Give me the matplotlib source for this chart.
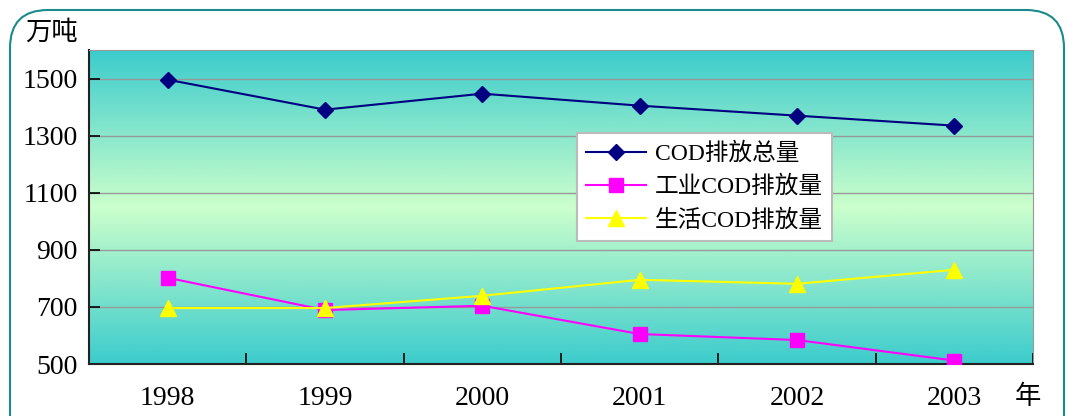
import numpy as np
import matplotlib
matplotlib.use("Agg")
import matplotlib.pyplot as plt
from matplotlib.colors import LinearSegmentedColormap
from matplotlib.patches import FancyBboxPatch
from matplotlib.transforms import IdentityTransform

plt.rcParams['font.family'] = ['Liberation Serif', 'Noto Sans CJK SC', 'DejaVu Sans']

# podaci (procijenjeni s grafa)
godine = ["1998", "1999", "2000", "2001", "2002", "2003"]
cod_ukupno = [1496, 1391, 1447, 1405, 1370, 1335]
cod_industrija = [802, 689, 704, 605, 584, 512]
cod_kucanstva = [696, 696, 739, 795, 781, 830]

fig = plt.figure(figsize=(10.67, 4.16), dpi=100)
ax = fig.add_axes([89 / 1067, 52 / 416, (1033 - 89) / 1067, (364 - 50) / 416])

# pozadina s gradijentom
cmap = LinearSegmentedColormap.from_list("bg", ["#3ccccc", "#ccffcc", "#3ccccc"])
grad = np.linspace(0, 1, 256).reshape(-1, 1)
ax.imshow(grad, cmap=cmap, aspect="auto", extent=[-0.5, 5.5, 500, 1600],
          origin="upper", zorder=0)

x = np.arange(len(godine))
ax.plot(x, cod_ukupno, color="#000080", marker="D", markersize=8, lw=1.5,
        label="COD排放总量", zorder=3)
ax.plot(x, cod_industrija, color="#ff00ff", marker="s", markersize=10, lw=1.5,
        label="工业COD排放量", zorder=3)
ax.plot(x, cod_kucanstva, color="#ffff00", marker="^", markersize=11, lw=1.5,
        label="生活COD排放量", zorder=3)

ax.set_xlim(-0.5, 5.5)
ax.set_ylim(500, 1600)
ax.set_yticks(range(500, 1600, 200))
ax.set_xticks(x)
ax.set_xticklabels(godine)
ax.set_xticks(np.arange(-0.5, 5.6, 1), minor=True)
ax.tick_params(axis="x", which="major", length=0, labelsize=20, pad=16)
ax.tick_params(axis="x", which="minor", direction="in", length=8, width=1.2)
ax.tick_params(axis="y", direction="in", length=8, width=1.2, labelsize=20, pad=8)
ax.grid(axis="y", color="#999999", lw=1, zorder=1)

ax.spines["left"].set_color("#222222")
ax.spines["bottom"].set_color("#222222")
ax.spines["left"].set_linewidth(1.5)
ax.spines["bottom"].set_linewidth(1.5)
ax.spines["top"].set_color("#999999")
ax.spines["right"].set_color("#999999")

leg = ax.legend(loc="upper left", bbox_to_anchor=(0.517, 0.736), fontsize=17,
                frameon=True, fancybox=False, edgecolor="#bbbbbb",
                framealpha=1, handlelength=2.5, handletextpad=0.4,
                borderpad=0.4, labelspacing=0.45, borderaxespad=0)
leg.get_frame().set_linewidth(1.5)

fig.text(25 / 1067, 1 - 32 / 416, "万吨", fontsize=19, va="center", ha="left",
         family=['Noto Sans CJK SC'])
fig.text(1015 / 1067, 1 - 396 / 416, "年", fontsize=19, va="center", ha="left",
         family=['Noto Sans CJK SC'])

# zaobljeni okvir
okvir = FancyBboxPatch((10, -60), 1054, 466, boxstyle="round,pad=0,rounding_size=38",
                       transform=IdentityTransform(), fill=False,
                       edgecolor="#1a8a8a", lw=1.5)
fig.patches.append(okvir)

fig.savefig("out.png", dpi=100)
